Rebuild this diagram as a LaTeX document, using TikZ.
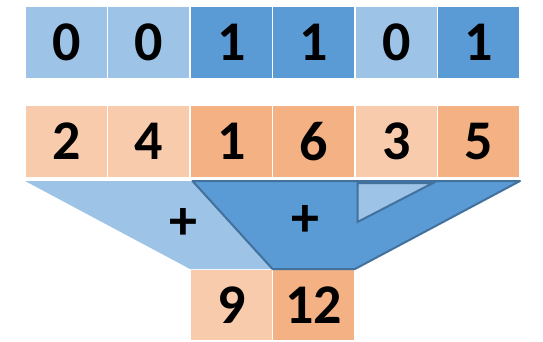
\documentclass[tikz,border=0pt]{standalone}
\usepackage{fontspec}
\setmainfont{Carlito}
\usetikzlibrary{positioning}
\definecolor{maskon}{HTML}{5B9BD5}
\definecolor{maskoff}{HTML}{9DC3E6}
\definecolor{valon}{HTML}{F4B183}
\definecolor{valoff}{HTML}{F8CBAD}
\definecolor{edgeblue}{HTML}{41719C}

\begin{document}
\begin{tikzpicture}[x=1pt,y=-1pt,
  cell/.style={rectangle,draw=white,line width=1.5pt,outer sep=0pt,inner sep=0pt,
    minimum width=82.5pt,minimum height=73pt,font=\fontsize{56}{60}\selectfont\bfseries},
  off/.style={cell,fill=maskoff},
  on/.style={cell,fill=maskon},
  voff/.style={cell,fill=valoff},
  von/.style={cell,fill=valon}]
\useasboundingbox (0,0) rectangle (543,342);
\node [off] (m1) at (66.25,42.5) {0};
\node [off,right=0pt of m1] (m2) {0};
\node [on,right=0pt of m2] (m3) {1};
\node [on,right=0pt of m3] (m4) {1};
\node [off,right=0pt of m4] (m5) {0};
\node [on,right=0pt of m5] (m6) {1};

\node [voff] (v1) at (66.25,141.5) {2};
\node [voff,right=0pt of v1] (v2) {4};
\node [von,right=0pt of v2] (v3) {1};
\node [von,right=0pt of v3] (v4) {6};
\node [voff,right=0pt of v4] (v5) {3};
\node [von,right=0pt of v5] (v6) {5};

\node [voff,minimum height=72pt] (s1) at (231.25,305) {9};
\node [von,minimum height=72pt,right=0pt of s1] (s2) {12};

\coordinate (ta) at (25,181);
\coordinate (tb) at (192.5,181);
\coordinate (tc) at (520,181);
\coordinate (tri1) at (357.5,183);
\coordinate (tri2) at (433,183);
\coordinate (tri3) at (357.5,222);

\fill [maskoff] (ta) -- (tb) -- (s2.north west) -- (s1.north west) -- cycle;
\draw [fill=maskon,draw=edgeblue,line width=2pt,line join=round]
  (tb) -- (tc) -- (s2.north east) -- (s2.north west) -- cycle;
\draw [fill=maskoff,draw=edgeblue,line width=2pt] (tri1) -- (tri2) -- (tri3) -- cycle;

\node [font=\fontsize{56}{60}\selectfont\bfseries] (p1) at (183,224) {+};
\node [font=\fontsize{56}{60}\selectfont\bfseries] (p2) at (305,221) {+};
\end{tikzpicture}
\end{document}
